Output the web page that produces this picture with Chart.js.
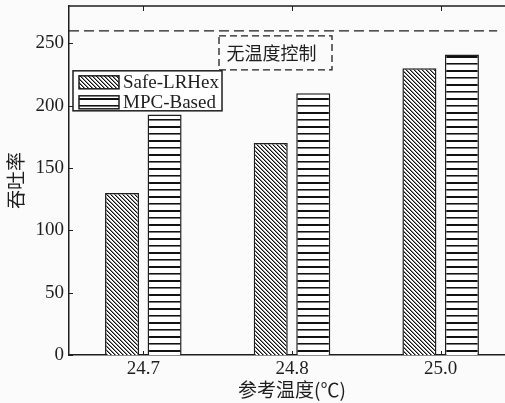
<!DOCTYPE html>
<html>
<head>
<meta charset="utf-8">
<script src="https://cdn.jsdelivr.net/npm/chart.js@4/dist/chart.umd.min.js"></script>
<style>
  html, body { margin: 0; padding: 0; background: #fbfbfb; overflow: hidden; }
  #wrap { width: 525px; height: 403px; }
</style>
</head>
<body>
<div id="wrap"><canvas id="c" width="525" height="403"></canvas></div>
<script>
// Reference temperatures and throughput of the two controllers
const categories = ['24.7', '24.8', '25.0'];
const safeLRHex = [130, 170, 230];
const mpcBased = [193, 210, 241];
const yTicks = [0, 50, 100, 150, 200, 250];
const noControlLevel = 260;
const yMax = 280;

const INK = '#1e1e1e';
const SERIF = '"Liberation Serif", "Times New Roman", serif';
const CJK = '"Noto Sans CJK SC", sans-serif';

// hatch fills
function diagPattern() {
  const t = document.createElement('canvas');
  t.width = 4; t.height = 4;
  const g = t.getContext('2d');
  g.fillStyle = '#ffffff'; g.fillRect(0, 0, 4, 4);
  for (let i = 0; i < 4; i++) {
    g.fillStyle = '#111'; g.fillRect(i, i, 1, 1);
    g.fillStyle = '#888'; g.fillRect((i + 1) % 4, i, 1, 1);
  }
  return g.createPattern(t, 'repeat');
}
function horizPattern() {
  const t = document.createElement('canvas');
  t.width = 4; t.height = 14;
  const g = t.getContext('2d');
  g.fillStyle = '#ffffff'; g.fillRect(0, 0, 4, 14);
  g.fillStyle = '#111';
  g.fillRect(0, 0, 4, 2);
  g.fillRect(0, 7, 4, 1);
  g.fillStyle = '#777';
  g.fillRect(0, 8, 4, 1);
  return g.createPattern(t, 'repeat');
}

const safeFill = diagPattern();
const mpcFill = horizPattern();

const decorations = {
  id: 'decorations',
  afterDraw(chart) {
    const { ctx, chartArea: a, scales } = chart;
    const x = scales.x, y = scales.y;
    ctx.save();
    ctx.strokeStyle = INK;
    ctx.lineWidth = 1.5;
    // top frame line
    ctx.beginPath();
    ctx.moveTo(a.left, a.top); ctx.lineTo(a.right + 20, a.top);
    ctx.stroke();
    // inward ticks
    ctx.lineWidth = 1;
    ctx.beginPath();
    yTicks.forEach(v => {
      const py = Math.round(y.getPixelForValue(v)) + 0.5;
      ctx.moveTo(a.left, py); ctx.lineTo(a.left + 4, py);
    });
    categories.forEach((c, i) => {
      const px = Math.round(x.getPixelForValue(i)) + 0.5;
      ctx.moveTo(px, a.top); ctx.lineTo(px, a.top + 5);
      ctx.moveTo(px, a.bottom); ctx.lineTo(px, a.bottom - 4);
    });
    ctx.stroke();

    // reference level without temperature control
    const ly = y.getPixelForValue(noControlLevel);
    const spacing = x.getPixelForValue(1) - x.getPixelForValue(0);
    const lineEnd = x.getPixelForValue(categories.length - 1) + 0.38 * spacing;
    ctx.lineWidth = 1.3;
    ctx.setLineDash([10, 5]);
    ctx.beginPath();
    ctx.moveTo(a.left, ly); ctx.lineTo(lineEnd, ly);
    ctx.stroke();

    // annotation box
    ctx.setLineDash([7, 4]);
    const bx = 219, by = y.getPixelForValue(256), bw = 113, bh = 34;
    ctx.strokeRect(bx, by, bw, bh);
    ctx.setLineDash([]);
    ctx.fillStyle = INK;
    ctx.font = '18px ' + CJK;
    ctx.textAlign = 'center';
    ctx.textBaseline = 'middle';
    ctx.fillText('无温度控制', bx + bw / 2 - 4, by + bh / 2);

    // legend
    const lx = 73, lty = y.getPixelForValue(228), lw = 149, lh = 40;
    ctx.fillStyle = '#ffffff';
    ctx.fillRect(lx, lty, lw, lh);
    ctx.lineWidth = 1.5;
    ctx.strokeRect(lx, lty, lw, lh);
    chart.data.datasets.forEach((ds, i) => {
      const sy = lty + 5 + i * 20;
      ctx.fillStyle = ds.backgroundColor;
      ctx.fillRect(lx + 6, sy, 40, 13);
      ctx.lineWidth = 1.5;
      ctx.strokeStyle = INK;
      ctx.strokeRect(lx + 6, sy, 40, 13);
      ctx.fillStyle = INK;
      ctx.font = '19px ' + SERIF;
      ctx.textAlign = 'left';
      ctx.textBaseline = 'middle';
      ctx.fillText(ds.label, lx + 50, sy + 7);
    });
    ctx.restore();
  }
};

new Chart(document.getElementById('c'), {
  type: 'bar',
  data: {
    labels: categories,
    datasets: [
      { label: 'Safe-LRHex', data: safeLRHex, backgroundColor: safeFill, borderColor: INK, borderWidth: 1.5 },
      { label: 'MPC-Based', data: mpcBased, backgroundColor: mpcFill, borderColor: INK, borderWidth: 1.5 }
    ]
  },
  options: {
    responsive: false,
    animation: false,
    devicePixelRatio: 1,
    layout: { padding: { left: 0, top: 6, right: 10, bottom: 0 } },
    datasets: { bar: { categoryPercentage: 0.572, barPercentage: 0.8 } },
    plugins: { legend: { display: false }, tooltip: { enabled: false } },
    scales: {
      x: {
        grid: { display: false, drawTicks: false },
        border: { display: true, color: INK, width: 1.5 },
        ticks: { color: INK, font: { family: SERIF, size: 19 }, padding: 3 },
        title: { display: true, text: '参考温度(℃)', color: INK, font: { family: CJK, size: 19 }, padding: { top: 0, bottom: 2 } },
        afterFit(s) { s.height = 48; s.paddingLeft = 0; s.paddingRight = 0; }
      },
      y: {
        min: 0, max: yMax,
        grid: { display: false, drawTicks: false },
        border: { display: true, color: INK, width: 1.5 },
        ticks: { color: INK, font: { family: SERIF, size: 19 }, padding: 5 },
        afterBuildTicks(s) { s.ticks = yTicks.map(v => ({ value: v })); },
        title: { display: true, text: '吞吐率', color: INK, font: { family: CJK, size: 19 }, padding: { top: 4, bottom: 0 } },
        afterFit(s) { s.width = 69; s.paddingTop = 0; s.paddingBottom = 0; }
      }
    }
  },
  plugins: [decorations]
});
</script>
</body>
</html>
